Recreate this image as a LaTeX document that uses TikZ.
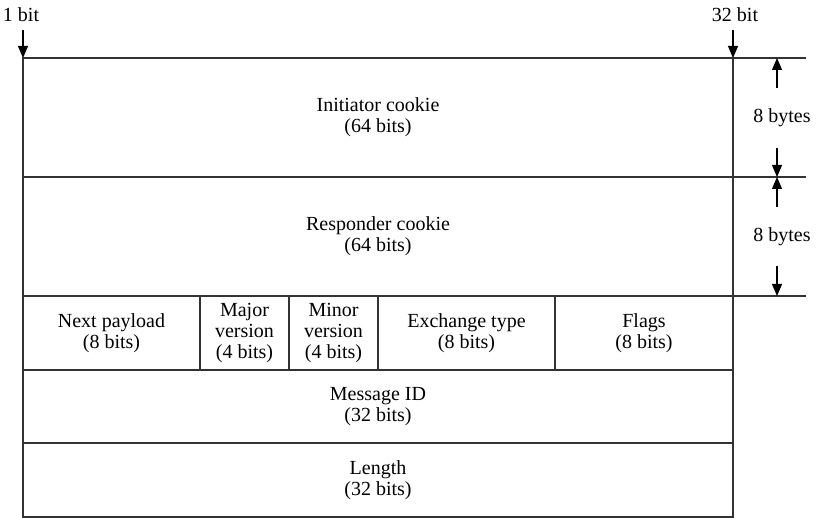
\documentclass[tikz,border=0pt]{standalone}
\usepackage{fontspec}
\setmainfont{Liberation Serif}
\usetikzlibrary{arrows.meta}
\begin{document}
\begin{tikzpicture}[x=1pt,y=-1pt,
  cell/.style={draw=black!80,line width=1.4pt,rectangle,inner sep=0pt,outer sep=0pt,anchor=north west,align=center,
    font=\fontsize{20}{21}\selectfont},
  lbl/.style={inner sep=0pt,font=\fontsize{20}{21}\selectfont},
  ext/.style={draw=black!80,line width=1.4pt},
  dim/.style={draw=black,line width=1.1pt,-{Triangle[width=10pt,length=12pt]}}]
\useasboundingbox (0,0) rectangle (816,518);
\fill[white] (0,0) rectangle (816,518);
% rows
\node[cell,minimum width=710pt,minimum height=119pt] (init) at (23,58) {Initiator cookie\\(64 bits)};
\node[cell,minimum width=710pt,minimum height=119pt] (resp) at (23,177) {Responder cookie\\(64 bits)};
\node[cell,minimum width=177pt,minimum height=74pt] (np) at (23,296) {Next payload\\(8 bits)};
\node[cell,minimum width=89pt,minimum height=74pt] (maj) at (200,296) {Major\\version\\(4 bits)};
\node[cell,minimum width=89pt,minimum height=74pt] (min) at (289,296) {Minor\\version\\(4 bits)};
\node[cell,minimum width=177pt,minimum height=74pt] (ex) at (378,296) {Exchange type\\(8 bits)};
\node[cell,minimum width=178pt,minimum height=74pt] (fl) at (555,296) {Flags\\(8 bits)};
\node[cell,minimum width=710pt,minimum height=73pt] (mid) at (23,370) {Message ID\\(32 bits)};
\node[cell,minimum width=710pt,minimum height=74pt] (len) at (23,443) {Length\\(32 bits)};
% extension lines
\coordinate (e1) at (806,58);
\coordinate (e2) at (806,177);
\coordinate (e3) at (806,296);
\draw[ext] (init.north east) -- (e1);
\draw[ext] (init.south east) -- (e2);
\draw[ext] (resp.south east) -- (e3);
% bit labels
\node[lbl] (b1) at (21,15) {1 bit};
\node[lbl] (b32) at (735,15) {32 bit};
\coordinate (a1) at (23,30);
\coordinate (a32) at (733,30);
\draw[dim] (a1) -- (init.north west);
\draw[dim] (a32) -- (init.north east);
% byte dimensions
\node[lbl] (by1) at (782,118) {8 bytes};
\node[lbl] (by2) at (782,237) {8 bytes};
\coordinate (u1) at (777,88);
\coordinate (t1) at (777,58);
\coordinate (d1) at (777,148);
\coordinate (t2) at (777,177);
\coordinate (u2) at (777,207);
\coordinate (d2) at (777,266);
\coordinate (t3) at (777,296);
\draw[dim] (u1) -- (t1);
\draw[dim] (d1) -- (t2);
\draw[dim] (u2) -- (t2);
\draw[dim] (d2) -- (t3);
\end{tikzpicture}
\end{document}
